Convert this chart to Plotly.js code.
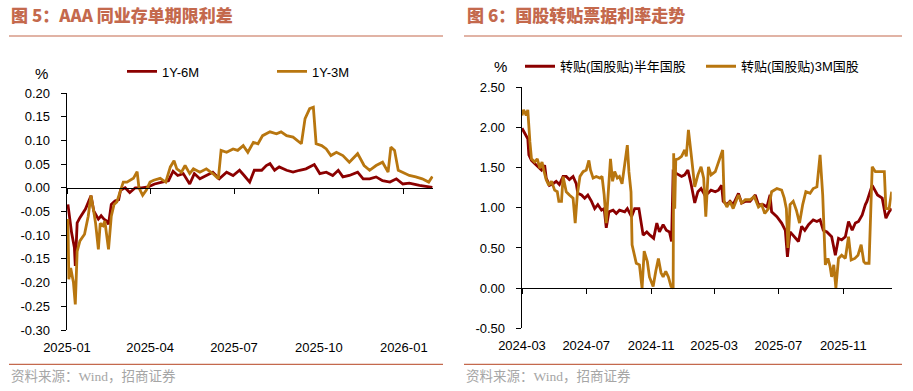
<!DOCTYPE html>
<html>
<head>
<meta charset="utf-8">
<script src="https://cdn.plot.ly/plotly-3.0.1.min.js"></script>
<style>html,body{margin:0;padding:0;background:#fff;}#chart{width:913px;height:391px;}</style>
</head>
<body>
<div id="chart"></div>
<script>
// ---------- Left chart: AAA NCD term spreads (%) ----------
const leftDates6M = ['2025-01-02','2025-01-05','2025-01-06','2025-01-09','2025-01-10','2025-01-12','2025-01-15','2025-01-21','2025-01-24','2025-01-27','2025-01-30',
 '2025-02-04','2025-02-07','2025-02-10','2025-02-13','2025-02-15','2025-02-18','2025-02-22','2025-02-26','2025-02-28',
 '2025-03-05','2025-03-10','2025-03-16','2025-03-23','2025-03-30',
 '2025-04-06','2025-04-14','2025-04-21','2025-04-26',
 '2025-05-01','2025-05-07','2025-05-14','2025-05-19','2025-05-25',
 '2025-06-01','2025-06-08','2025-06-15','2025-06-23','2025-06-30',
 '2025-07-07','2025-07-12','2025-07-18','2025-07-23','2025-07-31',
 '2025-08-05','2025-08-09','2025-08-14','2025-08-19','2025-08-27',
 '2025-09-03','2025-09-10','2025-09-17','2025-09-26',
 '2025-10-02','2025-10-09','2025-10-16','2025-10-22','2025-10-27',
 '2025-11-03','2025-11-12','2025-11-18','2025-11-25',
 '2025-12-02','2025-12-09','2025-12-17','2025-12-24','2025-12-31',
 '2026-01-07','2026-01-18','2026-01-25','2026-02-01'];
const leftVals6M = [-0.035,-0.087,-0.095,-0.126,-0.165,-0.074,-0.063,-0.045,-0.030,-0.017,-0.049,
 -0.066,-0.059,-0.066,-0.070,-0.077,-0.035,-0.028,-0.025,-0.005,
 0.000,-0.010,0.000,0.000,0.002,
 0.008,0.012,0.015,0.035,
 0.026,0.030,0.008,0.030,0.019,
 0.026,0.033,0.019,0.033,0.026,
 0.037,0.026,0.012,0.037,0.037,
 0.047,0.051,0.037,0.044,0.037,
 0.033,0.037,0.040,0.049,
 0.030,0.033,0.026,0.037,0.023,
 0.026,0.033,0.019,0.019,
 0.023,0.015,0.012,0.019,0.008,
 0.010,0.005,0.003,0.001];

const leftDates3M = ['2025-01-02','2025-01-03','2025-01-05','2025-01-06','2025-01-08','2025-01-10','2025-01-12','2025-01-15','2025-01-20','2025-01-24','2025-01-27','2025-01-30',
 '2025-02-01','2025-02-04','2025-02-06','2025-02-09','2025-02-11','2025-02-15','2025-02-18','2025-02-21','2025-02-24','2025-02-28',
 '2025-03-03','2025-03-07','2025-03-10','2025-03-14','2025-03-18','2025-03-20','2025-03-24','2025-03-28',
 '2025-04-01','2025-04-05','2025-04-12','2025-04-18','2025-04-23','2025-04-27','2025-04-30',
 '2025-05-05','2025-05-09','2025-05-14','2025-05-18','2025-05-25',
 '2025-06-01','2025-06-08','2025-06-14','2025-06-17','2025-06-23','2025-06-30',
 '2025-07-05','2025-07-11','2025-07-16','2025-07-22','2025-07-27',
 '2025-08-01','2025-08-09','2025-08-16','2025-08-21','2025-08-27',
 '2025-09-03','2025-09-08','2025-09-12','2025-09-16','2025-09-21','2025-09-25','2025-09-28',
 '2025-10-04','2025-10-09','2025-10-14','2025-10-20','2025-10-27',
 '2025-11-03','2025-11-12','2025-11-19','2025-11-25',
 '2025-12-02','2025-12-09','2025-12-15','2025-12-18','2025-12-22','2025-12-26','2025-12-31',
 '2026-01-07','2026-01-14','2026-01-21','2026-01-28','2026-02-01'];
const leftVals3M = [-0.066,-0.193,-0.169,-0.183,-0.200,-0.246,-0.134,-0.112,-0.098,-0.060,-0.016,-0.050,
 -0.075,-0.130,-0.075,-0.080,-0.070,-0.130,-0.060,-0.035,-0.030,-0.006,
 0.012,0.012,0.015,0.020,0.034,0.000,-0.016,-0.005,
 0.012,0.016,0.020,0.012,0.044,0.057,0.040,
 0.033,0.047,0.030,0.040,0.033,
 0.040,0.030,0.019,0.079,0.075,0.082,
 0.079,0.089,0.075,0.096,0.093,
 0.110,0.118,0.114,0.118,0.110,
 0.107,0.100,0.093,0.146,0.167,0.170,0.093,
 0.089,0.082,0.068,0.075,0.068,
 0.054,0.072,0.047,0.037,
 0.047,0.054,0.033,0.086,0.079,0.037,0.033,
 0.026,0.023,0.019,0.012,0.024];

const leftYTicks = [-0.30,-0.25,-0.20,-0.15,-0.10,-0.05,0.00,0.05,0.10,0.15,0.20];

// ---------- Right chart: bill rediscount rates (%) ----------
const rightDatesHalf = ['2024-03-01','2024-03-04','2024-03-12','2024-03-14','2024-03-19','2024-03-25','2024-03-31',
 '2024-04-07','2024-04-13','2024-04-16','2024-04-22','2024-04-29',
 '2024-05-05','2024-05-11','2024-05-18','2024-05-24','2024-05-30',
 '2024-06-06','2024-06-12','2024-06-15','2024-06-22','2024-06-28',
 '2024-07-04','2024-07-11','2024-07-17','2024-07-23','2024-07-30',
 '2024-08-04','2024-08-08','2024-08-13','2024-08-21','2024-08-27',
 '2024-09-02','2024-09-12','2024-09-17','2024-09-25',
 '2024-10-01','2024-10-09','2024-10-17','2024-10-24','2024-10-30',
 '2024-11-06','2024-11-12','2024-11-17','2024-11-24','2024-11-30',
 '2024-12-06','2024-12-10','2024-12-13','2024-12-23','2024-12-29',
 '2025-01-04','2025-01-10','2025-01-16','2025-01-23','2025-01-29',
 '2025-02-04','2025-02-11','2025-02-17','2025-02-23',
 '2025-03-03','2025-03-09','2025-03-15','2025-03-18','2025-03-25','2025-03-31',
 '2025-04-06','2025-04-16','2025-04-22','2025-04-29',
 '2025-05-08','2025-05-18','2025-05-24',
 '2025-06-02','2025-06-09','2025-06-15','2025-06-18','2025-06-28',
 '2025-07-07','2025-07-14','2025-07-18','2025-07-23',
 '2025-08-02','2025-08-08','2025-08-14','2025-08-20','2025-08-27',
 '2025-09-05','2025-09-12','2025-09-18','2025-09-24',
 '2025-10-01','2025-10-10','2025-10-17','2025-10-23','2025-10-29',
 '2025-11-05','2025-11-11','2025-11-18','2025-11-24','2025-11-30',
 '2025-12-07','2025-12-13','2025-12-16','2025-12-26',
 '2026-01-05','2026-01-14','2026-01-21','2026-01-27','2026-02-01'];
const rightValsHalf = [1.99,1.95,1.86,1.66,1.59,1.55,1.51,
 1.47,1.53,1.37,1.28,1.30,
 1.33,1.29,1.39,1.39,1.35,
 1.39,1.30,1.18,1.16,1.12,
 1.16,1.08,0.99,1.04,0.97,
 0.99,0.75,0.95,0.97,0.93,
 0.97,0.95,0.99,0.89,
 0.99,0.99,0.66,0.70,0.66,
 0.62,0.81,0.70,0.79,0.72,
 0.70,0.58,1.45,1.41,1.39,
 1.41,1.47,1.30,1.06,1.20,
 1.24,1.16,1.18,1.22,
 1.20,1.22,1.28,1.08,1.04,1.08,
 1.04,1.18,1.06,1.08,
 1.08,1.16,1.04,
 1.04,1.01,1.16,0.95,0.89,
 0.81,0.72,0.39,0.70,
 0.62,0.58,0.77,0.72,0.79,
 0.85,0.83,0.85,0.72,
 0.70,0.64,0.41,0.62,0.60,
 0.64,0.83,0.72,0.81,0.83,
 0.91,1.04,1.08,1.28,
 1.16,1.12,0.87,0.95,0.99];

const rightDates3M = ['2024-03-01','2024-03-04','2024-03-09','2024-03-12','2024-03-16','2024-03-19','2024-03-25','2024-03-30',
 '2024-04-04','2024-04-08','2024-04-12','2024-04-16','2024-04-21','2024-04-26',
 '2024-05-02','2024-05-07','2024-05-10','2024-05-15','2024-05-18','2024-05-24','2024-05-30',
 '2024-06-06','2024-06-10','2024-06-14','2024-06-19','2024-06-25',
 '2024-07-01','2024-07-06','2024-07-09','2024-07-14','2024-07-20','2024-07-27','2024-07-31',
 '2024-08-04','2024-08-08','2024-08-12','2024-08-16','2024-08-20','2024-08-24','2024-08-29',
 '2024-09-02','2024-09-07','2024-09-12','2024-09-17','2024-09-20','2024-09-24','2024-09-26','2024-09-29',
 '2024-10-04','2024-10-10','2024-10-15','2024-10-19','2024-10-25','2024-10-29',
 '2024-11-05','2024-11-10','2024-11-15','2024-11-20','2024-11-24','2024-11-29',
 '2024-12-04','2024-12-09','2024-12-13','2024-12-14','2024-12-16','2024-12-18','2024-12-23','2024-12-29',
 '2025-01-04','2025-01-07','2025-01-11','2025-01-16','2025-01-23','2025-01-29',
 '2025-02-04','2025-02-09','2025-02-13','2025-02-18','2025-02-23',
 '2025-03-03','2025-03-09','2025-03-13','2025-03-17','2025-03-20','2025-03-25','2025-03-31',
 '2025-04-06','2025-04-16','2025-04-22','2025-04-29',
 '2025-05-08','2025-05-16','2025-05-24','2025-05-30',
 '2025-06-05','2025-06-12','2025-06-18','2025-06-28',
 '2025-07-07','2025-07-12','2025-07-16','2025-07-19','2025-07-23','2025-07-29',
 '2025-08-04','2025-08-10','2025-08-16','2025-08-22','2025-08-30',
 '2025-09-05','2025-09-12','2025-09-18','2025-09-23','2025-09-28',
 '2025-10-03','2025-10-07','2025-10-10','2025-10-14','2025-10-18','2025-10-23','2025-10-29',
 '2025-11-05','2025-11-11','2025-11-16','2025-11-23','2025-11-29',
 '2025-12-05','2025-12-10','2025-12-13','2025-12-20','2025-12-26',
 '2026-01-01','2026-01-08','2026-01-14','2026-01-18','2026-01-21','2026-01-27','2026-02-01'];
const rightVals3M = [2.15,2.22,2.15,2.22,1.82,1.61,1.57,1.61,
 1.49,1.57,1.45,1.35,1.28,1.33,
 1.22,1.20,1.08,1.08,1.39,1.20,1.16,
 1.12,0.81,1.16,1.39,1.45,
 1.47,1.59,1.47,1.37,1.39,1.37,1.39,
 1.16,0.81,1.16,1.61,1.33,1.45,1.37,
 1.39,1.30,1.51,1.78,1.45,1.20,0.54,0.46,
 0.31,0.29,0.00,0.46,0.33,0.14,
 0.02,0.21,0.37,0.19,0.14,0.21,
 0.14,0.02,0.00,1.68,0.99,1.60,1.61,1.64,
 1.72,1.64,1.97,1.68,1.26,1.41,
 1.51,1.37,0.89,1.51,1.41,
 1.45,1.57,1.66,1.72,1.08,1.01,1.08,
 0.99,1.16,1.06,1.10,
 1.10,1.14,1.01,1.04,
 0.93,0.99,1.20,1.24,
 1.22,1.12,0.99,0.50,1.04,1.08,
 0.97,0.81,1.04,1.20,1.18,
 1.24,1.26,1.66,1.16,0.29,
 0.37,0.27,0.14,0.29,0.00,0.37,0.41,
 0.37,0.64,0.35,0.37,0.41,
 0.54,0.33,0.31,0.31,1.51,
 1.45,1.45,1.45,1.45,0.99,0.99,1.20];

const rightYTicks = [-0.50,0.00,0.50,1.00,1.50,2.00,2.50];

const leftNames = ['1Y-6M','1Y-3M'];
const rightNames = ['转贴(国股贴)半年国股','转贴(国股贴)3M国股'];
const titles = ['图 5：AAA 同业存单期限利差','图 6：国股转贴票据利率走势'];
const sourceText = '资料来源：Wind，招商证券';

// ---------- styling / layout ----------
const W = 913, H = 391;
const RED = '#8B0000', ORANGE = '#B8760F', TERRA = '#C4694D';
const FONT = 'Liberation Sans, Arial, Noto Sans CJK SC, sans-serif';
const px = v => v / W;
const py = v => 1 - v / H;

const leftDom = {x: [px(67), px(433.3)], y: [py(330), py(93)]};
const rightDom = {x: [px(522), px(891.7)], y: [py(328.3), py(87.3)]};
const leftYR = [-0.3, 0.2], rightYR = [-0.5, 2.5];
const zeroPos = (dom, r) => dom.y[0] + (0 - r[0]) / (r[1] - r[0]) * (dom.y[1] - dom.y[0]);

const lineStyle = c => ({color: c, width: 2.8});
const traces = [
  {x: leftDates6M, y: leftVals6M, name: leftNames[0], type: 'scatter', mode: 'lines', line: lineStyle(RED), xaxis: 'x', yaxis: 'y', legend: 'legend'},
  {x: leftDates3M, y: leftVals3M, name: leftNames[1], type: 'scatter', mode: 'lines', line: lineStyle(ORANGE), xaxis: 'x', yaxis: 'y', legend: 'legend'},
  {x: rightDatesHalf, y: rightValsHalf, name: rightNames[0], type: 'scatter', mode: 'lines', line: lineStyle(RED), xaxis: 'x2', yaxis: 'y2', legend: 'legend2'},
  {x: rightDates3M, y: rightVals3M, name: rightNames[1], type: 'scatter', mode: 'lines', line: lineStyle(ORANGE), xaxis: 'x2', yaxis: 'y2', legend: 'legend2'},
  // invisible carriers for the zero-line tick axes
  {x: leftDates6M, y: leftVals6M, type: 'scatter', mode: 'lines', opacity: 0, showlegend: false, hoverinfo: 'skip', xaxis: 'x3', yaxis: 'y'},
  {x: rightDatesHalf, y: rightValsHalf, type: 'scatter', mode: 'lines', opacity: 0, showlegend: false, hoverinfo: 'skip', xaxis: 'x4', yaxis: 'y2'}
];

const tickFont = {family: FONT, size: 13, color: '#000'};
const baseX = (dom, range, tick0, dtick) => ({
  domain: dom.x, type: 'date', range: range, tick0: tick0, dtick: dtick, tickformat: '%Y-%m',
  showgrid: false, zeroline: false, showline: false, ticks: '', tickfont: tickFont, ticklabelstandoff: 8, fixedrange: true
});
const zeroX = (over, dom, yr, range, tick0, dtick) => ({
  overlaying: over, anchor: 'free', position: zeroPos(dom, yr), type: 'date', range: range, tick0: tick0, dtick: dtick,
  showgrid: false, zeroline: false, showline: true, linecolor: '#000', linewidth: 1.3,
  ticks: 'outside', ticklen: 5, tickwidth: 1, tickcolor: '#000', showticklabels: false
});
const baseY = (dom, range, tv, anchor) => ({
  domain: dom.y, range: range, anchor: anchor, tickvals: tv, ticktext: tv.map(v => v.toFixed(2)),
  showgrid: false, zeroline: false, showline: true, linecolor: '#000', linewidth: 1.3,
  ticks: 'outside', ticklen: 5, tickcolor: '#000', tickfont: tickFont, ticklabelstandoff: 8, fixedrange: true
});

const leftXR = ['2025-01-01', '2026-02-02'];
const rightXR = ['2024-03-01', '2026-02-01'];

const ann = (text, x, y, opts) => Object.assign({text: text, x: px(x), y: py(y), xref: 'paper', yref: 'paper', showarrow: false, xanchor: 'left', yanchor: 'middle'}, opts);
const titleFont = {family: 'Noto Sans CJK SC, sans-serif', size: 17, color: TERRA, weight: 900};
const srcFont = {family: 'Liberation Serif, Noto Sans CJK SC, serif', size: 13.5, color: '#A6A6A6'};
const pctFont = {family: FONT, size: 15, color: '#000'};

const hline = (x0, x1, y) => ({type: 'line', xref: 'paper', yref: 'paper', x0: px(x0), x1: px(x1), y0: py(y), y1: py(y), line: {color: TERRA, width: 1.2}});

const legendBase = {orientation: 'h', xanchor: 'left', yanchor: 'middle', bgcolor: 'rgba(0,0,0,0)', font: {family: FONT, size: 13, color: '#000'},
  itemwidth: 30, entrywidthmode: 'pixels', traceorder: 'normal', itemclick: false, itemdoubleclick: false};

const layout = {
  width: W, height: H, margin: {l: 0, r: 0, t: 0, b: 0}, paper_bgcolor: '#fff', plot_bgcolor: '#fff',
  showlegend: true,
  xaxis: Object.assign(baseX(leftDom, leftXR, '2025-01-01', 'M3'), {anchor: 'y'}),
  yaxis: baseY(leftDom, leftYR, leftYTicks, 'x'),
  xaxis2: Object.assign(baseX(rightDom, rightXR, '2024-03-01', 'M4'), {anchor: 'y2'}),
  yaxis2: baseY(rightDom, rightYR, rightYTicks, 'x2'),
  xaxis3: zeroX('x', leftDom, leftYR, leftXR, '2025-01-01', 'M3'),
  xaxis4: zeroX('x2', rightDom, rightYR, rightXR, '2024-03-01', 'M4'),
  legend: Object.assign({}, legendBase, {x: px(122), y: py(71.5), entrywidth: 105}),
  legend2: Object.assign({}, legendBase, {x: px(520), y: py(66.3), entrywidth: 136}),
  annotations: [
    ann(titles[0], 9, 15, {font: titleFont}),
    ann(titles[1], 465, 15, {font: titleFont}),
    ann('%', 41, 73, {font: pctFont, xanchor: 'center'}),
    ann('%', 500.7, 66, {font: pctFont, xanchor: 'center'}),
    ann(sourceText, 9, 376, {font: srcFont}),
    ann(sourceText, 464, 376, {font: srcFont})
  ],
  shapes: [hline(9, 443, 36), hline(9, 443, 364.3), hline(464, 902, 36), hline(464, 902, 364.3)]
};

Plotly.newPlot('chart', traces, layout, {staticPlot: true, displayModeBar: false});
</script>
</body>
</html>
